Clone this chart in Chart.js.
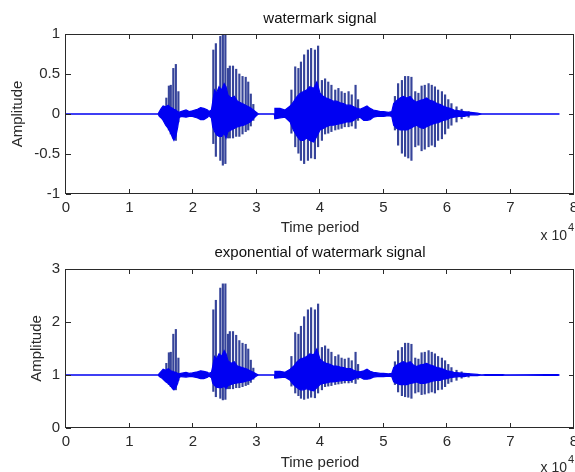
<!DOCTYPE html>
<html>
<head>
<meta charset="utf-8">
<script src="https://cdn.jsdelivr.net/npm/chart.js@4.4.1/dist/chart.umd.min.js"></script>
<style>
  body { margin: 0; background: #fff; }
  #wrap { position: relative; width: 575px; height: 472px; overflow: hidden; }
  canvas { position: absolute; left: 0; }
</style>
</head>
<body>
<div id="wrap">
  <canvas id="sigChart" width="575" height="246" style="top:0"></canvas>
  <canvas id="expChart" width="575" height="236" style="top:236px"></canvas>
</div>
<script>
// time in units of 10^4 samples
// envelope of the dense part of the waveform
const coreT = [
  0, 1.45, 1.47, 1.50, 1.53, 1.57, 1.61, 1.65, 1.68, 1.70,
  1.73, 1.76, 1.78, 1.81, 1.89, 1.94, 1.99, 2.07, 2.12, 2.17,
  2.23, 2.25, 2.29, 2.31, 2.34, 2.37, 2.41, 2.45, 2.49, 2.52,
  2.55, 2.60, 2.65, 2.70, 2.75, 2.80, 2.85, 2.90, 2.95, 3.00,
  3.03, 3.28, 3.29, 3.37, 3.45, 3.53, 3.58, 3.64, 3.69, 3.74,
  3.79, 3.84, 3.90, 3.95, 4.00, 4.05, 4.10, 4.16, 4.21, 4.26,
  4.32, 4.37, 4.42, 4.48, 4.53, 4.58, 4.63, 4.69, 4.74, 4.79,
  4.84, 4.90, 4.95, 5.00, 5.08, 5.13, 5.16, 5.21, 5.26, 5.31,
  5.37, 5.42, 5.47, 5.52, 5.58, 5.63, 5.68, 5.73, 5.79, 5.84,
  5.89, 5.94, 6.00, 6.05, 6.11, 6.19, 6.27, 6.37, 6.48, 6.55,
  6.60, 6.88, 6.92, 7.55, 7.75, 7.77
];
const sigHi = [
  0, 0, 0.03, 0.07, 0.10, 0.09, 0.11, 0.08, 0.07, 0.06,
  0.05, 0.03, 0.02, 0.03, 0.05, 0.03, 0.04, 0.06, 0.08, 0.07,
  0.05, 0.03, 0.05, 0.15, 0.30, 0.26, 0.34, 0.30, 0.38, 0.34,
  0.24, 0.20, 0.22, 0.16, 0.14, 0.12, 0.10, 0.08, 0.05, 0.02,
  0, 0, 0.07, 0.07, 0.05, 0.10, 0.15, 0.22, 0.26, 0.28,
  0.30, 0.34, 0.32, 0.40, 0.26, 0.22, 0.20, 0.18, 0.16, 0.16,
  0.14, 0.13, 0.11, 0.11, 0.09, 0.07, 0.06, 0.08, 0.10, 0.07,
  0.05, 0.04, 0.03, 0.03, 0.02, 0.03, 0.13, 0.17, 0.20, 0.22,
  0.20, 0.22, 0.17, 0.15, 0.17, 0.18, 0.20, 0.17, 0.16, 0.13,
  0.12, 0.10, 0.08, 0.07, 0.05, 0.04, 0.03, 0.02, 0.01, 0,
  0, 0, 0, 0, 0, 0
];
const sigLo = [
  0, 0, -0.03, -0.05, -0.08, -0.14, -0.18, -0.24, -0.30, -0.33,
  -0.28, -0.16, -0.05, -0.03, -0.04, -0.03, -0.03, -0.05, -0.07, -0.07,
  -0.04, -0.02, -0.05, -0.16, -0.22, -0.26, -0.28, -0.28, -0.24, -0.30,
  -0.22, -0.20, -0.18, -0.16, -0.15, -0.14, -0.12, -0.10, -0.06, -0.02,
  0, 0, -0.06, -0.05, -0.04, -0.10, -0.20, -0.28, -0.33, -0.33,
  -0.30, -0.33, -0.35, -0.28, -0.20, -0.18, -0.16, -0.14, -0.14, -0.13,
  -0.12, -0.11, -0.10, -0.10, -0.08, -0.05, -0.04, -0.08, -0.08, -0.07,
  -0.04, -0.03, -0.03, -0.03, -0.02, -0.03, -0.14, -0.18, -0.20, -0.20,
  -0.20, -0.18, -0.16, -0.14, -0.17, -0.18, -0.16, -0.14, -0.12, -0.11,
  -0.10, -0.08, -0.07, -0.05, -0.04, -0.03, -0.03, -0.01, -0.01, 0,
  0, 0, 0, 0, 0, 0
];
const expHi = [
  1, 1, 1.03, 1.07, 1.11, 1.09, 1.12, 1.08, 1.07, 1.06,
  1.05, 1.03, 1.02, 1.03, 1.05, 1.03, 1.04, 1.06, 1.08, 1.07,
  1.05, 1.03, 1.05, 1.16, 1.35, 1.30, 1.40, 1.35, 1.46, 1.40,
  1.27, 1.22, 1.25, 1.17, 1.15, 1.13, 1.11, 1.08, 1.05, 1.02,
  1, 1, 1.07, 1.07, 1.05, 1.11, 1.16, 1.25, 1.30, 1.32,
  1.35, 1.40, 1.38, 1.49, 1.30, 1.25, 1.22, 1.20, 1.17, 1.17,
  1.15, 1.14, 1.12, 1.12, 1.09, 1.07, 1.06, 1.08, 1.11, 1.07,
  1.05, 1.04, 1.03, 1.03, 1.02, 1.03, 1.14, 1.19, 1.22, 1.25,
  1.22, 1.25, 1.19, 1.16, 1.19, 1.20, 1.22, 1.19, 1.17, 1.14,
  1.13, 1.11, 1.08, 1.07, 1.05, 1.04, 1.03, 1.02, 1.01, 1,
  1.006, 1.006, 1, 1.006, 1.006, 1
];
const expLo = [
  1, 1, 0.97, 0.95, 0.92, 0.87, 0.84, 0.79, 0.74, 0.72,
  0.76, 0.85, 0.95, 0.97, 0.96, 0.97, 0.97, 0.95, 0.93, 0.93,
  0.96, 0.98, 0.95, 0.85, 0.80, 0.77, 0.76, 0.76, 0.79, 0.74,
  0.80, 0.82, 0.84, 0.85, 0.86, 0.87, 0.89, 0.90, 0.94, 0.98,
  1, 1, 0.94, 0.95, 0.96, 0.90, 0.82, 0.76, 0.72, 0.72,
  0.74, 0.72, 0.70, 0.76, 0.82, 0.84, 0.85, 0.87, 0.87, 0.88,
  0.89, 0.90, 0.90, 0.90, 0.92, 0.95, 0.96, 0.92, 0.92, 0.93,
  0.96, 0.97, 0.97, 0.97, 0.98, 0.97, 0.87, 0.84, 0.82, 0.82,
  0.82, 0.84, 0.85, 0.87, 0.84, 0.84, 0.85, 0.87, 0.89, 0.90,
  0.90, 0.92, 0.93, 0.95, 0.96, 0.97, 0.97, 0.99, 0.99, 1,
  0.994, 0.994, 1, 0.994, 0.994, 1
];

// the tall individual oscillation peaks
const spikeT = [
  1.58, 1.62, 1.65, 1.69, 1.73, 1.77,
  2.32, 2.36, 2.43, 2.47, 2.51, 2.55, 2.58, 2.63, 2.68, 2.73, 2.78, 2.83, 2.87, 2.91, 2.95,
  3.55, 3.61, 3.66, 3.70, 3.75, 3.81, 3.86, 3.92, 3.97, 4.03, 4.08, 4.13, 4.18, 4.24, 4.29, 4.34, 4.39, 4.45, 4.50, 4.56, 4.60,
  5.18, 5.23, 5.29, 5.34, 5.39, 5.44, 5.50, 5.55, 5.60, 5.65, 5.71, 5.76, 5.81, 5.86, 5.92, 5.97, 6.02, 6.07, 6.15, 6.23, 6.34
];
const sigSpikeHi = [
  0.20, 0.35, 0.36, 0.57, 0.62, 0.28,
  0.80, 0.88, 0.97, 1.00, 1.00, 0.57, 0.60, 0.60, 0.56, 0.50, 0.47, 0.46, 0.40, 0.25, 0.12,
  0.30, 0.59, 0.57, 0.65, 0.74, 0.80, 0.82, 0.80, 0.85, 0.42, 0.44, 0.40, 0.36, 0.30, 0.32, 0.28, 0.26, 0.28, 0.24, 0.36, 0.18,
  0.22, 0.38, 0.42, 0.47, 0.47, 0.46, 0.28, 0.26, 0.35, 0.36, 0.38, 0.36, 0.34, 0.30, 0.28, 0.24, 0.18, 0.13, 0.09, 0.06, 0.03
];
const sigSpikeLo = [
  -0.10, -0.20, -0.25, -0.30, -0.33, -0.10,
  -0.37, -0.53, -0.58, -0.64, -0.62, -0.30, -0.30, -0.30, -0.28, -0.28, -0.25, -0.22, -0.20, -0.15, -0.08,
  -0.24, -0.41, -0.49, -0.58, -0.62, -0.58, -0.55, -0.56, -0.41, -0.33, -0.25, -0.24, -0.22, -0.20, -0.19, -0.18, -0.16, -0.16, -0.15, -0.18, -0.08,
  -0.20, -0.39, -0.49, -0.53, -0.55, -0.58, -0.41, -0.39, -0.46, -0.44, -0.41, -0.39, -0.41, -0.33, -0.31, -0.25, -0.18, -0.14, -0.10, -0.06, -0.04
];
const expSpikeHi = [
  1.22, 1.42, 1.43, 1.77, 1.86, 1.32,
  2.23, 2.41, 2.64, 2.72, 2.72, 1.77, 1.82, 1.82, 1.75, 1.65, 1.60, 1.58, 1.49, 1.28, 1.13,
  1.35, 1.80, 1.77, 1.92, 2.10, 2.23, 2.27, 2.23, 2.34, 1.52, 1.55, 1.49, 1.43, 1.35, 1.38, 1.32, 1.30, 1.32, 1.27, 1.43, 1.20,
  1.25, 1.46, 1.52, 1.60, 1.60, 1.58, 1.32, 1.30, 1.42, 1.43, 1.46, 1.43, 1.40, 1.35, 1.32, 1.27, 1.20, 1.14, 1.09, 1.06, 1.03
];
const expSpikeLo = [
  0.90, 0.82, 0.78, 0.74, 0.72, 0.90,
  0.69, 0.59, 0.56, 0.53, 0.54, 0.74, 0.74, 0.74, 0.76, 0.76, 0.78, 0.80, 0.82, 0.86, 0.92,
  0.79, 0.66, 0.61, 0.56, 0.54, 0.56, 0.58, 0.57, 0.66, 0.72, 0.78, 0.79, 0.80, 0.82, 0.83, 0.84, 0.85, 0.85, 0.86, 0.84, 0.92,
  0.82, 0.68, 0.61, 0.59, 0.58, 0.56, 0.66, 0.68, 0.63, 0.64, 0.66, 0.68, 0.66, 0.72, 0.73, 0.78, 0.84, 0.87, 0.90, 0.94, 0.96
];

const FONT = '"Liberation Sans", Arial, Helvetica, sans-serif';
const INK = "#2a2a2a";
const BLUE = "#0000f2";
const SPIKE = "#36449a";

Chart.defaults.font.family = FONT;
Chart.defaults.font.size = 15;
Chart.defaults.color = INK;

// matlab style box, inward ticks and the x 10^4 exponent
const matlabFrame = {
  id: "matlabFrame",
  afterDraw(chart, args, opts) {
    const { ctx, chartArea: a, scales } = chart;
    ctx.save();
    ctx.strokeStyle = INK;
    ctx.lineWidth = 1;
    ctx.strokeRect(a.left - 0.5, a.top + 0.5, a.right - a.left, a.bottom - a.top - 1);
    ctx.beginPath();
    scales.x.ticks.forEach(t => {
      const px = Math.round(scales.x.getPixelForValue(t.value)) - 0.5;
      ctx.moveTo(px, a.bottom);
      ctx.lineTo(px, a.bottom - 5);
      ctx.moveTo(px, a.top);
      ctx.lineTo(px, a.top + 5);
    });
    scales.y.ticks.forEach(t => {
      const py = Math.round(scales.y.getPixelForValue(t.value)) + 0.5;
      ctx.moveTo(a.left, py);
      ctx.lineTo(a.left + 5, py);
      ctx.moveTo(a.right, py);
      ctx.lineTo(a.right - 5, py);
    });
    ctx.stroke();
    ctx.fillStyle = INK;
    ctx.textBaseline = "alphabetic";
    ctx.font = "14px " + FONT;
    ctx.textAlign = "right";
    ctx.fillText("x 10", a.right - 7, opts.expY);
    ctx.font = "11px " + FONT;
    ctx.textAlign = "left";
    ctx.fillText("4", a.right - 6, opts.expY - 9);
    ctx.restore();
  }
};

function makeChart(id, cfg) {
  const toXY = (xs, ys) => xs.map((x, i) => ({ x: x, y: ys[i] }));
  return new Chart(document.getElementById(id), {
    type: "line",
    data: {
      datasets: [
        {
          data: toXY(coreT, cfg.hi),
          borderColor: BLUE,
          backgroundColor: BLUE,
          borderWidth: 1.2,
          pointRadius: 0,
          fill: "+1",
          order: 1
        },
        {
          data: toXY(coreT, cfg.lo),
          borderColor: BLUE,
          borderWidth: 1.2,
          pointRadius: 0,
          fill: false,
          order: 1
        },
        {
          type: "bar",
          data: spikeT.map((x, i) => ({ x: x, y: [cfg.spikeLo[i], cfg.spikeHi[i]] })),
          backgroundColor: SPIKE,
          borderWidth: 0,
          barThickness: 1.5,
          order: 2
        }
      ]
    },
    options: {
      responsive: false,
      animation: false,
      events: [],
      layout: { padding: { left: 0, right: 1, top: 0, bottom: 0 } },
      plugins: {
        legend: { display: false },
        tooltip: { enabled: false },
        matlabFrame: { expY: cfg.expY }
      },
      scales: {
        x: {
          type: "linear",
          position: "bottom",
          min: 0,
          max: 8,
          offset: false,
          grid: { display: false, drawTicks: false },
          border: { display: false },
          ticks: { stepSize: 1, padding: 5, maxRotation: 0, autoSkip: false, color: INK },
          title: { display: true, text: "Time period", color: INK, padding: { top: 0, bottom: cfg.xTitlePad } },
          afterFit(s) {
            s.height = cfg.xHeight;
            s.paddingLeft = 0;
            s.paddingRight = 0;
          }
        },
        xTop: {
          type: "linear",
          position: "top",
          min: 0,
          max: 8,
          grid: { display: false, drawTicks: false },
          border: { display: false },
          ticks: { display: false },
          title: { display: true, text: cfg.title, color: "#111", padding: { top: cfg.titlePad, bottom: 0 } },
          afterFit(s) {
            s.height = cfg.topHeight;
            s.paddingLeft = 0;
            s.paddingRight = 0;
          }
        },
        y: {
          min: cfg.yMin,
          max: cfg.yMax,
          grid: { display: false, drawTicks: false },
          border: { display: false },
          ticks: { stepSize: cfg.yStep, padding: 6, color: INK, callback: v => String(v) },
          title: { display: true, text: "Amplitude", color: INK, padding: { top: cfg.yTitlePad, bottom: 0 } },
          afterFit(s) {
            s.width = 66;
            s.paddingTop = 0;
            s.paddingBottom = 0;
          }
        }
      }
    },
    plugins: [matlabFrame]
  });
}

makeChart("sigChart", {
  title: "watermark signal",
  hi: sigHi, lo: sigLo, spikeHi: sigSpikeHi, spikeLo: sigSpikeLo,
  yMin: -1, yMax: 1, yStep: 0.5,
  topHeight: 34, xHeight: 52, titlePad: 10, xTitlePad: 9, yTitlePad: 9, expY: 240
});

makeChart("expChart", {
  title: "exponential of watermark signal",
  hi: expHi, lo: expLo, spikeHi: expSpikeHi, spikeLo: expSpikeLo,
  yMin: 0, yMax: 3, yStep: 1,
  topHeight: 33, xHeight: 44, titlePad: 8, xTitlePad: 0, yTitlePad: 28, expY: 236
});
</script>
</body>
</html>
